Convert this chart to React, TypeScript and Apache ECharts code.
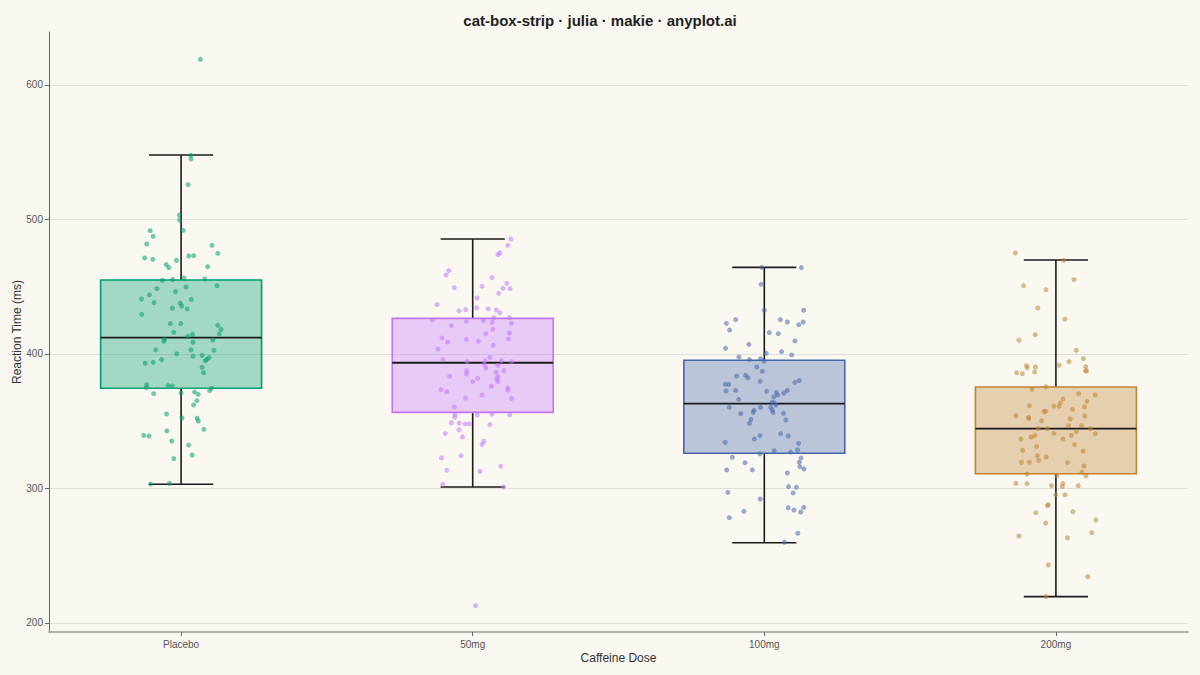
import { useEffect, useRef } from "react";
import * as echarts from "echarts";

// Reaction time (ms) by caffeine dose: box summaries plus jittered raw observations.
const categories = ["Placebo", "50mg", "100mg", "200mg"];
const colors = ["#009E73", "#C475FD", "#4467AC", "#C18331"];

// [lower whisker, Q1, median, Q3, upper whisker]
const boxStats = [
  [303.1, 374.5, 412.1, 455.0, 548.0],
  [301.1, 356.6, 393.5, 426.5, 485.5],
  [259.7, 326.2, 363.1, 395.3, 464.4],
  [219.6, 311.0, 344.5, 375.5, 469.9],
];

const yTicks = [200, 300, 400, 500, 600];

const placeboValues = [
  619.1, 547.7, 545.0, 525.9, 503.3, 499.6, 491.9, 491.7, 487.5, 481.8,
  480.8, 474.8, 471.4, 470.4, 472.9, 473.1, 469.6, 466.4, 464.2, 464.9,
  454.8, 455.3, 456.5, 455.8, 450.8, 448.6, 449.8, 446.3, 443.9, 440.9,
  440.6, 438.2, 437.7, 435.7, 434.0, 433.5, 429.5, 422.6, 422.6, 421.3,
  418.3, 416.1, 414.9, 414.6, 413.1, 410.9, 409.4, 410.4, 408.7, 403.0,
  403.0, 402.7, 400.2, 399.0, 398.3, 395.8, 397.3, 396.0, 395.0, 393.1,
  393.8, 390.1, 386.1, 377.2, 375.0, 376.7, 376.2, 374.5, 372.7, 371.0,
  370.5, 371.7, 370.0, 365.3, 362.1, 355.4, 352.4, 352.2, 350.2, 344.0,
  339.5, 339.0, 342.8, 335.3, 332.3, 324.9, 322.2, 303.8, 303.3,
];
const placeboJitter = [
  0.066, 0.033, 0.034, 0.024, -0.006, -0.005, 0.007, -0.106, -0.096, -0.118,
  0.106, 0.126, -0.125, -0.097, 0.026, 0.043, -0.016, -0.051, -0.042, 0.091,
  -0.064, -0.029, 0.01, 0.081, 0.123, -0.083, 0.017, -0.019, -0.109, -0.136,
  0.035, -0.093, -0.003, 0.002, -0.03, 0.021, -0.135, -0.037, -0.001, 0.126,
  0.137, -0.025, 0.131, 0.039, 0.023, -0.057, -0.059, 0.109, 0.041, -0.087,
  0.034, 0.113, -0.015, 0.072, 0.041, -0.067, 0.096, 0.088, 0.083, -0.123,
  -0.096, 0.072, 0.077, -0.118, -0.119, -0.045, -0.031, 0.104, 0.098, 0,
  -0.094, 0.046, 0.059, 0.054, 0.043, -0.05, 0.003, 0.055, 0.059, 0.078,
  -0.128, -0.11, -0.049, -0.032, 0.026, 0.038, -0.025, -0.04, -0.105,
];

const dose50Values = [
  485.5, 480.8, 475.3, 473.9, 462.0, 458.7, 456.8, 452.5, 449.3, 450.3,
  448.8, 448.6, 445.1, 441.6, 436.7, 434.4, 433.5, 432.7, 432.0, 433.0,
  430.7, 427.0, 427.0, 425.3, 424.3, 424.8, 423.5, 422.6, 421.1, 418.3,
  415.1, 415.6, 411.9, 410.9, 411.2, 408.9, 409.4, 406.4, 403.7, 397.5,
  395.8, 394.3, 395.0, 395.0, 394.3, 392.6, 391.6, 389.6, 387.6, 385.1,
  387.6, 386.4, 383.4, 382.9, 381.4, 381.9, 379.4, 379.4, 376.0, 374.7,
  373.0, 373.5, 372.0, 369.5, 367.3, 367.0, 360.6, 354.9, 352.9, 354.6,
  355.4, 354.6, 348.9, 348.5, 348.0, 348.0, 347.5, 343.7, 340.8, 338.3,
  335.1, 332.8, 324.4, 322.7, 316.5, 313.5, 312.8, 303.1, 301.1, 212.9,
];
const dose50Jitter = [
  0.131, 0.12, 0.093, 0.087, -0.082, -0.091, 0.066, 0.117, -0.063, 0.032,
  0.104, 0.128, 0.089, 0.015, -0.122, 0.013, 0.053, 0.081, -0.047, -0.024,
  0.093, 0.073, 0.126, -0.138, -0.022, 0.037, 0.067, 0.133, -0.073, 0.069,
  0.045, 0.126, -0.105, -0.022, 0.122, -0.086, 0.019, 0.07, -0.119, 0.059,
  -0.102, -0.019, 0.042, 0.099, 0.133, 0.039, 0.086, 0.045, -0.021, -0.021,
  0.107, 0.08, -0.079, 0.087, 0.083, 0.017, 0, 0.086, 0.064, 0.12,
  0.121, -0.109, -0.089, 0.032, -0.024, 0.133, -0.063, -0.061, -0.061, 0.016,
  0.066, 0.127, -0.073, -0.046, -0.026, -0.011, 0.059, -0.047, -0.094, -0.035,
  0.038, 0.032, -0.04, -0.107, 0.096, -0.089, 0.025, -0.103, 0.106, 0.01,
];

const dose100Values = [
  464.4, 464.2, 451.8, 432.5, 432.5, 422.8, 425.5, 425.5, 423.8, 423.8,
  421.8, 417.8, 415.9, 415.1, 409.7, 407.2, 404.2, 401.7, 400.5, 399.3,
  397.8, 395.8, 396.5, 394.5, 390.3, 387.1, 383.6, 384.1, 382.2, 379.7,
  380.2, 378.9, 377.4, 377.4, 372.5, 373.0, 372.2, 371.3, 373.0, 371.0,
  369.5, 368.0, 366.3, 364.1, 363.6, 362.1, 360.3, 360.3, 360.3, 358.4,
  356.6, 358.1, 356.6, 355.6, 355.9, 351.4, 350.9, 348.5, 340.8, 339.0,
  339.3, 336.8, 334.3, 333.6, 328.6, 328.1, 327.1, 325.7, 323.2, 322.7,
  319.2, 319.5, 316.2, 314.5, 313.8, 313.8, 311.5, 301.4, 300.9, 296.7,
  297.1, 292.2, 285.7, 284.0, 286.0, 282.5, 283.0, 278.3, 266.7, 260.0,
];
const dose100Jitter = [
  -0.009, 0.127, -0.011, 0, 0.135, -0.13, -0.098, 0.055, 0.079, 0.133,
  0.118, -0.119, 0.017, 0.048, 0.105, -0.053, -0.133, 0.059, 0.007, 0.094,
  -0.087, -0.051, -0.013, -0.001, -0.026, -0.007, -0.095, -0.064, -0.056, -0.014,
  0.12, 0.105, -0.134, -0.122, -0.131, -0.098, 0.008, 0.041, 0.079, 0.067,
  0.046, 0.032, -0.088, 0.027, 0.035, 0.04, -0.12, -0.013, 0.022, 0.027,
  0.03, -0.035, -0.038, -0.081, 0.066, -0.046, 0.074, -0.051, 0.056, 0.082,
  -0.015, -0.034, -0.134, 0.118, 0.114, 0.034, 0.09, -0.015, -0.11, 0.126,
  -0.066, 0.12, 0.122, 0.136, -0.129, -0.041, 0.079, 0.083, 0.11, 0.099,
  -0.125, -0.014, 0.082, 0.102, 0.135, 0.125, -0.07, -0.12, 0.115, 0.069,
];

const dose200Values = [
  475.1, 469.6, 455.3, 450.8, 447.8, 434.2, 425.8, 414.4, 410.2, 402.7,
  396.5, 394.3, 391.3, 389.8, 390.3, 391.6, 390.6, 387.4, 387.4, 386.1,
  385.4, 386.6, 375.7, 373.7, 370.5, 369.5, 366.5, 363.6, 364.8, 361.1,
  361.3, 361.6, 360.6, 358.9, 357.1, 357.4, 354.1, 352.9, 351.9, 353.9,
  351.7, 350.4, 346.7, 346.7, 344.5, 344.5, 344.5, 342.3, 341.0, 340.8,
  339.5, 339.3, 338.3, 336.8, 336.8, 332.6, 331.3, 328.4, 327.9, 324.4,
  323.4, 320.9, 319.5, 319.5, 319.2, 316.7, 312.0, 310.8, 309.5, 309.5,
  303.8, 303.6, 303.6, 301.4, 302.1, 302.1, 295.4, 295.4, 288.0, 287.2,
  282.0, 282.8, 276.6, 274.3, 267.2, 264.7, 263.4, 243.1, 234.4, 219.6,
];
const dose200Jitter = [
  -0.139, 0.027, 0.062, -0.111, -0.034, -0.062, 0.031, -0.071, -0.127, 0.07,
  0.094, 0.045, -0.101, -0.098, -0.07, 0.011, 0.102, 0.102, 0.105, -0.135,
  -0.115, -0.073, -0.034, -0.082, 0.078, 0.135, 0.025, 0.015, 0.107, 0.011,
  -0.007, -0.091, 0.098, 0.057, -0.041, -0.035, -0.137, -0.094, -0.093, 0.099,
  0.049, -0.049, 0.043, 0.088, -0.061, -0.03, 0.118, 0.07, -0.007, 0.135,
  0.053, -0.072, -0.085, -0.12, 0.024, 0.064, -0.066, -0.114, 0.093, -0.064,
  -0.033, -0.059, -0.118, -0.091, 0.04, 0.096, 0.089, -0.099, 0.103, 0.003,
  -0.137, -0.099, 0.024, 0.022, -0.015, 0.077, -0.001, 0.031, -0.026, -0.029,
  -0.069, 0.058, 0.137, -0.035, 0.123, -0.127, 0.04, -0.026, 0.109, -0.034,
];

const groupValues = [placeboValues, dose50Values, dose100Values, dose200Values];
const groupJitter = [placeboJitter, dose50Jitter, dose100Jitter, dose200Jitter];

const BOX_HALF = 0.276;
const CAP_HALF = 0.11;
const FONT = "'Liberation Sans', Arial, sans-serif";

export default function App() {
  const ref = useRef<HTMLDivElement>(null);

  useEffect(() => {
    document.body.style.margin = "0";
    if (!ref.current) return;
    const chart = echarts.init(ref.current, null, { renderer: "svg" });

    const boxData = boxStats.map((s, i) => [i + 1, ...s]);

    const renderBox = (params: any, api: any) => {
      const x = api.value(0);
      const [lo, q1, med, q3, hi] = [1, 2, 3, 4, 5].map((k) => api.value(k));
      const color = colors[params.dataIndex];
      const tl = api.coord([x - BOX_HALF, q3]);
      const br = api.coord([x + BOX_HALF, q1]);
      const c = (v: number) => api.coord([x, v]);
      const capL = api.coord([x - CAP_HALF, 0])[0];
      const capR = api.coord([x + CAP_HALF, 0])[0];
      const cx = c(med)[0];
      const black = { stroke: "#1a1a1a", lineWidth: 1.6 };
      return {
        type: "group",
        children: [
          { type: "line", shape: { x1: cx, y1: c(hi)[1], x2: cx, y2: tl[1] }, style: black },
          { type: "line", shape: { x1: cx, y1: br[1], x2: cx, y2: c(lo)[1] }, style: black },
          { type: "line", shape: { x1: capL, y1: c(hi)[1], x2: capR, y2: c(hi)[1] }, style: black },
          { type: "line", shape: { x1: capL, y1: c(lo)[1], x2: capR, y2: c(lo)[1] }, style: black },
          {
            type: "rect",
            shape: { x: tl[0], y: tl[1], width: br[0] - tl[0], height: br[1] - tl[1] },
            style: { fill: echarts.color.modifyAlpha(color, 0.35), stroke: color, lineWidth: 1.6 },
          },
          {
            type: "line",
            shape: { x1: tl[0], y1: c(med)[1], x2: br[0], y2: c(med)[1] },
            style: { stroke: "#1a1a1a", lineWidth: 1.8 },
          },
        ],
      };
    };

    const scatterSeries = groupValues.map((vals, g) => ({
      type: "scatter",
      name: categories[g],
      z: 3,
      symbolSize: 5,
      silent: true,
      itemStyle: { color: colors[g], opacity: 0.55 },
      data: vals.map((v, i) => [g + 1 + groupJitter[g][i], v]),
    }));

    chart.setOption({
      animation: false,
      backgroundColor: "#FAF8F1",
      textStyle: { fontFamily: FONT },
      title: {
        text: "cat-box-strip · julia · makie · anyplot.ai",
        left: "center",
        top: 8,
        textStyle: { fontSize: 15, fontWeight: "bold", color: "#1f1f1f", fontFamily: FONT },
      },
      grid: { left: 49, right: 12, top: 32, bottom: 43, outerBoundsMode: "none", containLabel: false },
      xAxis: {
        type: "value",
        min: 0.547,
        max: 4.453,
        name: "Caffeine Dose",
        nameLocation: "middle",
        nameGap: 20,
        nameMoveOverlap: false,
        nameTextStyle: { fontSize: 12, color: "#333" },
        axisLine: { lineStyle: { color: "#9a9a9a", width: 1.5 } },
        axisTick: { show: true, length: 4, customValues: [1, 2, 3, 4], lineStyle: { color: "#666" } },
        axisLabel: {
          customValues: [1, 2, 3, 4],
          formatter: (v: number) => categories[Math.round(v) - 1] ?? "",
          fontSize: 10,
          color: "#555",
          margin: 7,
        },
        splitLine: { show: false },
      },
      yAxis: {
        type: "value",
        min: 193.3,
        max: 639.4,
        name: "Reaction Time (ms)",
        nameLocation: "middle",
        nameGap: 26,
        nameMoveOverlap: false,
        nameTextStyle: { fontSize: 12, color: "#333" },
        axisLine: { show: true, lineStyle: { color: "#666", width: 1 } },
        axisTick: { show: true, length: 4, customValues: yTicks, lineStyle: { color: "#666" } },
        axisLabel: { customValues: yTicks, fontSize: 10, color: "#555", margin: 6 },
        splitLine: { show: true, lineStyle: { color: "#e2dfd8", width: 1 } },
      },
      series: [
        {
          type: "custom",
          z: 2,
          silent: true,
          renderItem: renderBox,
          encode: { x: 0, y: [1, 2, 3, 4, 5] },
          data: boxData,
        },
        ...scatterSeries,
      ],
    });

    return () => chart.dispose();
  }, []);

  return <div ref={ref} style={{ width: 1200, height: 675 }} />;
}
